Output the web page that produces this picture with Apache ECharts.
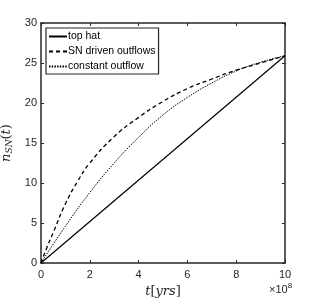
<!DOCTYPE html>
<html><head><meta charset="utf-8">
<script src="https://cdn.jsdelivr.net/npm/echarts@6/dist/echarts.min.js"></script>
<style>html,body{margin:0;padding:0;background:#fff}#c{width:315px;height:300px}</style>
</head><body><div id="c"></div>
<script>
var tTopHat = [0, 10];
var nTopHat = [0, 25.9];
var tSN = [0, 0.25, 0.5, 1, 1.5, 2, 3, 4, 5, 6, 7, 8, 9, 10];
var nSN = [0, 2.0, 3.8, 7.4, 10.2, 12.5, 15.8, 18.2, 20.2, 21.8, 23.0, 24.1, 25.0, 25.9];
var tConst = [0, 1, 2, 3, 4, 5, 6, 7, 8, 9, 10];
var nConst = [0, 4.6, 8.8, 12.5, 15.7, 18.5, 20.7, 22.5, 24.0, 25.1, 25.9];
var xTicks = [0, 2, 4, 6, 8, 10];
var yTicks = [0, 5, 10, 15, 20, 25, 30];
var seriesNames = ['top hat', 'SN driven outflows', 'constant outflow'];

function pairs(a, b) { return a.map(function (v, i) { return [v, b[i]]; }); }

var chart = echarts.init(document.getElementById('c'), null, { renderer: 'canvas' });
var txt = '#262626';
var axisCommon = {
  type: 'value',
  axisLine: { show: true, onZero: false, lineStyle: { color: '#262626', width: 1.5 } },
  axisTick: { show: true, inside: true, length: 3, lineStyle: { color: '#262626', width: 1 } },
  splitLine: { show: false }
};
chart.setOption({
  animation: false,
  textStyle: { fontFamily: 'Liberation Sans, Arial, sans-serif' },
  grid: { left: 41, right: 30, top: 23, bottom: 37, containLabel: false, outerBoundsMode: 'none' },
  legend: {
    left: 46, top: 28, orient: 'vertical',
    data: seriesNames,
    itemWidth: 18, itemHeight: 10, itemGap: 4,
    itemStyle: { opacity: 0 },
    backgroundColor: '#fff', borderColor: '#262626', borderWidth: 1.2,
    padding: [3, 3, 2, 2], borderRadius: 0,
    textStyle: { fontSize: 10.5, color: '#000', padding: [0, 0, 0, -4], fontFamily: 'Liberation Sans, Arial, sans-serif' }
  },
  xAxis: [
    Object.assign({}, axisCommon, {
      min: 0, max: 10, interval: 2, position: 'bottom',
      axisLabel: { color: txt, fontSize: 11, margin: 6 },
      name: '{i|t}{n|[}{i|yrs}{n|]}', nameLocation: 'middle', nameGap: 19,
      nameTextStyle: { rich: {
        i: { fontFamily: 'DejaVu Serif, serif', fontStyle: 'italic', fontSize: 13, color: txt },
        n: { fontFamily: 'DejaVu Serif, serif', fontSize: 13, color: txt } } }
    }),
    Object.assign({}, axisCommon, {
      min: 0, max: 10, interval: 2, position: 'top', axisLabel: { show: false }
    })
  ],
  yAxis: [
    Object.assign({}, axisCommon, {
      min: 0, max: 30, interval: 5, position: 'left',
      axisLabel: { color: txt, fontSize: 11, margin: 4 },
      name: '{i|n}{s|SN}{n|(}{i|t}{n|)}', nameLocation: 'middle', nameGap: 14, nameRotate: 90,
      nameTextStyle: { rich: {
        i: { fontFamily: 'DejaVu Serif, serif', fontStyle: 'italic', fontSize: 13, color: txt },
        s: { fontFamily: 'DejaVu Serif, serif', fontStyle: 'italic', fontSize: 9, color: txt, verticalAlign: 'bottom', padding: [6, 0, 0, 0] },
        n: { fontFamily: 'DejaVu Serif, serif', fontSize: 13, color: txt } } }
    }),
    Object.assign({}, axisCommon, {
      min: 0, max: 30, interval: 5, position: 'right', axisLabel: { show: false }
    })
  ],
  graphic: [{
    type: 'text', left: 269, top: 282,
    style: { text: '×10{s|8}', fill: txt, font: '11px Liberation Sans, Arial, sans-serif',
      rich: { s: { fontSize: 8, verticalAlign: 'top', padding: [0, 0, 7, 0], fill: txt } } }
  }],
  series: [
    { name: seriesNames[0], type: 'line', data: pairs(tTopHat, nTopHat), showSymbol: false, symbol: 'none',
      lineStyle: { color: '#000', width: 1.2, type: 'solid' }, itemStyle: { color: '#000' } },
    { name: seriesNames[1], type: 'line', data: pairs(tSN, nSN), showSymbol: false, symbol: 'none', smooth: 0.5,
      lineStyle: { color: '#000', width: 1.3, type: [4, 3] }, itemStyle: { color: '#000' } },
    { name: seriesNames[2], type: 'line', data: pairs(tConst, nConst), showSymbol: false, symbol: 'none', smooth: 0.5,
      lineStyle: { color: '#000', width: 1, type: [1.5, 1.2] }, itemStyle: { color: '#000' } }
  ]
});
</script></body></html>
